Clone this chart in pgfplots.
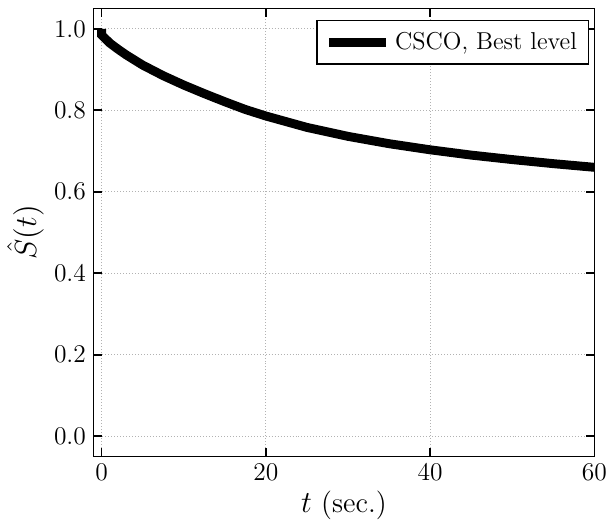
\documentclass[border=0pt]{standalone}
\usepackage{pgfplots}
\pgfplotsset{compat=1.18}
\begin{document}
\begin{tikzpicture}
\begin{axis}[
  name=main,
  width=236pt, height=211pt, scale only axis,
  xmin=-1, xmax=60, ymin=-0.05, ymax=1.05,
  xtick={0,20,40,60}, ytick={0,0.2,0.4,0.6,0.8,1.0},
  yticklabel style={/pgf/number format/.cd,fixed,fixed zerofill,precision=1},
  tick label style={font=\fontsize{11.5}{13}\selectfont},
  tick align=inside, tick pos=both,
  major tick length=4pt,
  every tick/.style={black, line width=0.8pt},
  axis line style={line width=0.8pt},
  grid=major, grid style={densely dotted, gray!60, line width=0.5pt},
  xlabel={$t$ (sec.)}, ylabel={$\hat{S}(t)$},
  label style={font=\fontsize{13.5}{15}\selectfont},
  xlabel style={yshift=2pt},
  ylabel style={yshift=-2pt},
  legend style={at={(0.99,0.975)}, anchor=north east, draw=black, line width=0.8pt, font=\fontsize{11.5}{13}\selectfont, inner sep=3.5pt, cells={anchor=west}},
  legend cell align=left,
  legend image post style={line width=4.2pt},
  legend image code/.code={\draw[#1] (0cm,0cm) -- (0.95cm,0cm);},
]
\addplot[black, line width=4.2pt] coordinates {
(0,1.0) (0,0.985) (0.5,0.975) (1,0.965) (2,0.95) (3,0.936) (5,0.911) (7.5,0.885) (10,0.862) (12.5,0.841) (15,0.821) (17.5,0.802) (20,0.786) (25,0.758) (30,0.736) (35,0.718) (40,0.703) (45,0.69) (50,0.679) (55,0.669) (60,0.66)
};
\addlegendentry{CSCO, Best level}
\end{axis}
\path (main.north) ++(0,4pt) coordinate (topspace);
\end{tikzpicture}
\end{document}
